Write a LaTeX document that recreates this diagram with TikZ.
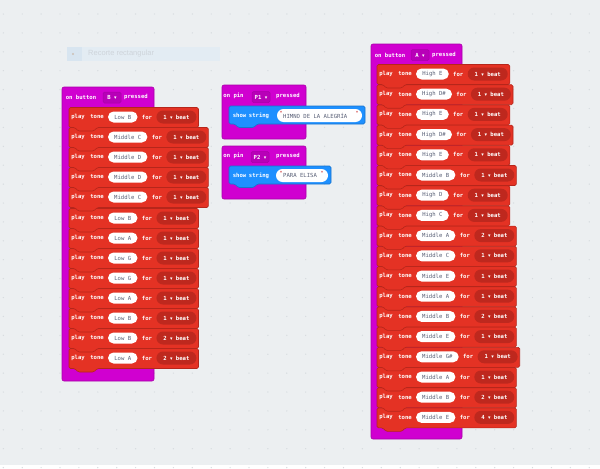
\documentclass[tikz,border=0pt]{standalone}
\usepackage{fontspec}
\setmainfont{Liberation Sans}
\setmonofont{DejaVu Sans Mono}
\newfontfamily\symfont{DejaVu Sans}
\usepackage{xcolor}
\usetikzlibrary{positioning}
\definecolor{workspace}{RGB}{236,239,241}
\definecolor{griddot}{RGB}{214,219,223}
\definecolor{hatpurple}{RGB}{208,0,208}
\definecolor{hatedge}{RGB}{168,0,168}
\definecolor{hatdrop}{RGB}{184,0,184}
\definecolor{musicred}{RGB}{228,50,36}
\definecolor{musicedge}{RGB}{182,38,27}
\definecolor{beatred}{RGB}{190,40,30}
\definecolor{basicblue}{RGB}{30,144,255}
\definecolor{basicedge}{RGB}{24,115,204}
\definecolor{pilltext}{RGB}{87,94,117}
\definecolor{quotered}{RGB}{200,30,30}
\definecolor{snipbg}{RGB}{227,236,243}
\definecolor{snipicon}{RGB}{216,229,240}
\definecolor{snipdot}{RGB}{205,192,180}
\definecolor{sniptext}{RGB}{206,212,218}
\newcommand\dropmark{{\symfont\fontsize{5}{5}\selectfont ▾}}
\tikzstyle{blockfont} = [font=\ttfamily\fontsize{5.6}{6}\selectfont]
\tikzstyle{lbl} = [font=\ttfamily\bfseries\fontsize{5.6}{6}\selectfont, text=white, inner sep=0pt]
\tikzstyle{hat} = [fill=hatpurple, draw=hatedge, line width=0.6pt, rounded corners=2pt]
\tikzstyle{hatdd} = [lbl, fill=hatdrop, draw=hatedge, line width=0.5pt,
    rounded corners=1.5pt, minimum width=18pt, minimum height=11pt]
\tikzstyle{toneblk} = [fill=musicred, draw=musicedge, line width=0.6pt, rounded corners=1.5pt]
\tikzstyle{strblk} = [fill=basicblue, draw=basicedge, line width=0.6pt, rounded corners=1.5pt]
\tikzstyle{pill} = [blockfont, fill=white, text=pilltext, rounded corners=5.5pt,
    minimum height=11pt, inner sep=0pt]
\tikzstyle{beatpill} = [lbl, fill=beatred, rounded corners=6.5pt,
    minimum width=40pt, minimum height=13pt]
\tikzstyle{quote} = [blockfont, text=quotered, inner sep=0pt]

\begin{document}
\begin{tikzpicture}[x=1pt,y=-1pt]
  \fill[workspace] (0,0) rectangle (600,465);
  \foreach \i in {0,...,31}
    \foreach \j in {0,...,24}
      \fill[griddot] ({3.3+18.9*\i},{14+18.9*\j}) circle (0.7);

  % snipping hint
  \fill[snipbg] (67,47) rectangle (220,61);
  \fill[snipicon] (67,47) rectangle (82,61);
  \fill[snipdot] (73,54) circle (1.2);
  \node[anchor=west, inner sep=0pt, text=sniptext, font=\fontsize{7.5}{8}\selectfont] (snip) at (88,54) {Recorte rectangular};

  % one play tone block: name, left x, mid y, pill width, note, beats
  \def\tone#1#2#3#4#5#6{
    \draw[toneblk] (#2,{#3-9.5}) -- ({#2+#4+100},{#3-9.5}) -- ({#2+#4+100},{#3+10.5})
      -- ({#2+28},{#3+10.5}) -- ({#2+25},{#3+14}) -- ({#2+9},{#3+14}) -- ({#2+6},{#3+10.5})
      -- (#2,{#3+10.5}) -- cycle;
    \node[lbl] (#1p) at ({#2+9},#3) {play};
    \node[lbl] (#1t) at ({#2+28},#3) {tone};
    \node[pill, minimum width=#4pt] (#1n) at ({#2+39+#4/2},#3) {#5};
    \node[lbl, right=4pt of #1n] (#1f) {for};
    \node[beatpill, right=4pt of #1f] (#1d) {#6 \dropmark{} beat};
  }

  % on button B
  \draw[hat] (62,87) rectangle (154,381);
  \node[lbl] (lon) at (81,97) {on button};
  \node[hatdd] (ldd) at (112,97.5) {B \dropmark};
  \node[lbl] (lpr) at (136,97) {pressed};
  \tone{l13}{69}{358}{29.5}{Low A}{2}
  \tone{l12}{69}{338}{29.5}{Low B}{2}
  \tone{l11}{69}{318}{29.5}{Low B}{1}
  \tone{l10}{69}{298}{29.5}{Low A}{1}
  \tone{l9}{69}{278}{29.5}{Low G}{1}
  \tone{l8}{69}{258}{29.5}{Low G}{1}
  \tone{l7}{69}{238}{29.5}{Low A}{1}
  \tone{l6}{69}{218}{29.5}{Low B}{1}
  \tone{l5}{69}{197}{39.4}{Middle C}{1}
  \tone{l4}{69}{177}{39.4}{Middle D}{1}
  \tone{l3}{69}{157}{39.4}{Middle D}{1}
  \tone{l2}{69}{137}{39.4}{Middle C}{1}
  \tone{l1}{69}{117}{29.5}{Low B}{1}

  % on pin P1
  \draw[hat] (222,85) rectangle (306,139);
  \node[lbl] (aon) at (233.5,96) {on pin};
  \node[hatdd] (add) at (261,97) {P1 \dropmark};
  \node[lbl] (apr) at (288,96) {pressed};
  \draw[strblk] (229,106) -- (365,106) -- (365,124) -- (257,124) -- (254,127.5) -- (238,127.5)
    -- (235,124) -- (229,124) -- cycle;
  \node[lbl] (ash) at (239.5,115.5) {show};
  \node[lbl] (ast) at (259,115.5) {string};
  \node[pill, minimum width=85pt, minimum height=13pt, rounded corners=6.5pt] (astr) at (319.5,115.5) {};
  \node[pill, anchor=west, fill=none] (atx) at (283,115.5) {HIMNO DE LA ALEGRÍA};
  \node[quote] (aq1) at (281,113) {"};
  \node[quote] (aq2) at (357,113) {"};

  % on pin P2
  \draw[hat] (222,146) rectangle (306,199);
  \node[lbl] (bon) at (233.5,156) {on pin};
  \node[hatdd] (bdd) at (260,157) {P2 \dropmark};
  \node[lbl] (bpr) at (288,156) {pressed};
  \draw[strblk] (229,166) -- (331,166) -- (331,184) -- (257,184) -- (254,187.5) -- (238,187.5)
    -- (235,184) -- (229,184) -- cycle;
  \node[lbl] (bsh) at (239.5,175.5) {show};
  \node[lbl] (bst) at (259,175.5) {string};
  \node[pill, minimum width=52pt, minimum height=13pt, rounded corners=6.5pt] (bstr) at (302,175.5) {};
  \node[pill, anchor=west, fill=none] (btx) at (283,175.5) {PARA ELISA};
  \node[quote] (bq1) at (281,173) {"};
  \node[quote] (bq2) at (322,173) {"};

  % on button A
  \draw[hat] (371,44) rectangle (462,439);
  \node[lbl] (ron) at (390,55) {on button};
  \node[hatdd] (rdd) at (420,55) {A \dropmark};
  \node[lbl] (rpr) at (444,55) {pressed};
  \tone{r18}{377}{417.4}{39.4}{Middle E}{4}
  \tone{r17}{377}{397.2}{39.4}{Middle B}{2}
  \tone{r16}{377}{377}{39.4}{Middle A}{1}
  \tone{r15}{377}{356.8}{42.7}{Middle G\#}{1}
  \tone{r14}{377}{336.6}{39.4}{Middle E}{1}
  \tone{r13}{377}{316.4}{39.4}{Middle B}{2}
  \tone{r12}{377}{296.2}{39.4}{Middle A}{1}
  \tone{r11}{377}{276}{39.4}{Middle E}{1}
  \tone{r10}{377}{255.8}{39.4}{Middle C}{1}
  \tone{r9}{377}{235.6}{39.4}{Middle A}{2}
  \tone{r8}{377}{215.4}{32.8}{High C}{1}
  \tone{r7}{377}{195.2}{32.8}{High D}{1}
  \tone{r6}{377}{175}{39.4}{Middle B}{1}
  \tone{r5}{377}{154.8}{32.8}{High E}{1}
  \tone{r4}{377}{134.6}{36}{High D\#}{1}
  \tone{r3}{377}{114.4}{32.8}{High E}{1}
  \tone{r2}{377}{94.2}{36}{High D\#}{1}
  \tone{r1}{377}{74}{32.8}{High E}{1}
\end{tikzpicture}
\end{document}
